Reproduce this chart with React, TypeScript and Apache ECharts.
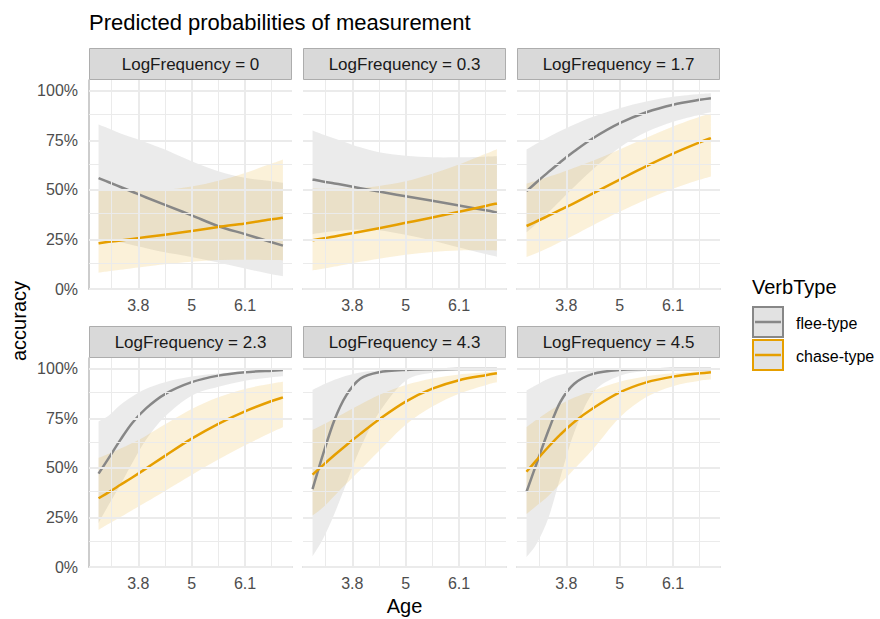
import { useEffect, useRef } from "react";
import * as echarts from "echarts";

// ---------- data ----------
const ages = [2.98, 3.2, 3.45, 3.7, 4.0, 4.4, 4.97, 5.54, 6.11, 6.68, 6.92];

const panelTitles = [
  "LogFrequency = 0",
  "LogFrequency = 0.3",
  "LogFrequency = 1.7",
  "LogFrequency = 2.3",
  "LogFrequency = 4.3",
  "LogFrequency = 4.5",
];

const xTickValues = [3.83, 4.97, 6.11];
const xTickLabels = ["3.8", "5", "6.1"];
const xMinorValues = [3.26, 4.4, 5.54, 6.68];
const yTickValues = [0, 0.25, 0.5, 0.75, 1];
const yTickLabels = ["0%", "25%", "50%", "75%", "100%"];
const yMinorValues = [0.125, 0.375, 0.625, 0.875];

const verbTypes = ["flee-type", "chase-type"];

// LogFrequency = 0
const fleeFitLF0 = [0.56, 0.539, 0.515, 0.491, 0.462, 0.425, 0.372, 0.317, 0.277, 0.236, 0.219];
const fleeLowLF0 = [0.249, 0.243, 0.236, 0.222, 0.206, 0.186, 0.162, 0.134, 0.103, 0.074, 0.064];
const fleeHighLF0 = [0.83, 0.81, 0.785, 0.765, 0.74, 0.704, 0.645, 0.595, 0.561, 0.544, 0.536];
const chaseFitLF0 = [0.231, 0.238, 0.245, 0.253, 0.262, 0.274, 0.293, 0.313, 0.331, 0.352, 0.36];
const chaseLowLF0 = [0.082, 0.089, 0.097, 0.105, 0.114, 0.125, 0.138, 0.146, 0.148, 0.146, 0.144];
const chaseHighLF0 = [0.503, 0.499, 0.496, 0.495, 0.495, 0.5, 0.517, 0.546, 0.586, 0.633, 0.654];

// LogFrequency = 0.3
const fleeFitLF03 = [0.553, 0.543, 0.533, 0.522, 0.509, 0.492, 0.468, 0.445, 0.421, 0.397, 0.386];
const fleeLowLF03 = [0.277, 0.285, 0.291, 0.297, 0.3, 0.297, 0.274, 0.245, 0.21, 0.177, 0.163];
const fleeHighLF03 = [0.8, 0.78, 0.76, 0.74, 0.715, 0.69, 0.672, 0.665, 0.665, 0.668, 0.67];
const chaseFitLF03 = [0.246, 0.255, 0.265, 0.276, 0.289, 0.307, 0.334, 0.361, 0.39, 0.419, 0.432];
const chaseLowLF03 = [0.094, 0.102, 0.113, 0.124, 0.137, 0.153, 0.173, 0.187, 0.194, 0.195, 0.194];
const chaseHighLF03 = [0.507, 0.506, 0.506, 0.507, 0.51, 0.52, 0.544, 0.582, 0.629, 0.683, 0.706];

// LogFrequency = 1.7
const fleeFitLF17 = [0.494, 0.54, 0.591, 0.64, 0.695, 0.761, 0.837, 0.892, 0.93, 0.955, 0.963];
const fleeLowLF17 = [0.286, 0.332, 0.388, 0.446, 0.516, 0.605, 0.714, 0.792, 0.844, 0.88, 0.892];
const fleeHighLF17 = [0.704, 0.734, 0.767, 0.797, 0.83, 0.869, 0.913, 0.947, 0.97, 0.984, 0.988];
const chaseFitLF17 = [0.318, 0.342, 0.37, 0.399, 0.434, 0.483, 0.552, 0.62, 0.683, 0.74, 0.762];
const chaseLowLF17 = [0.161, 0.182, 0.208, 0.237, 0.272, 0.322, 0.39, 0.452, 0.506, 0.551, 0.568];
const chaseHighLF17 = [0.532, 0.548, 0.567, 0.586, 0.612, 0.647, 0.704, 0.763, 0.82, 0.869, 0.886];

// LogFrequency = 2.3
const fleeFitLF23 = [0.471, 0.551, 0.643, 0.727, 0.802, 0.873, 0.933, 0.966, 0.983, 0.991, 0.994];
const fleeLowLF23 = [0.222, 0.316, 0.417, 0.525, 0.645, 0.76, 0.865, 0.91, 0.94, 0.958, 0.963];
const fleeHighLF23 = [0.735, 0.765, 0.819, 0.861, 0.9, 0.933, 0.961, 0.977, 0.988, 0.996, 0.998];
const chaseFitLF23 = [0.347, 0.378, 0.415, 0.452, 0.498, 0.561, 0.648, 0.723, 0.786, 0.838, 0.856];
const chaseLowLF23 = [0.187, 0.218, 0.252, 0.287, 0.328, 0.384, 0.465, 0.543, 0.614, 0.68, 0.705];
const chaseHighLF23 = [0.551, 0.572, 0.598, 0.626, 0.663, 0.72, 0.798, 0.857, 0.899, 0.926, 0.935];

// LogFrequency = 4.3
const fleeFitLF43 = [0.393, 0.566, 0.743, 0.866, 0.95, 0.983, 0.995, 0.998, 0.999, 0.999, 0.999];
const fleeLowLF43 = [0.054, 0.14, 0.27, 0.42, 0.6, 0.78, 0.94, 0.98, 0.993, 0.996, 0.997];
const fleeHighLF43 = [0.894, 0.92, 0.945, 0.965, 0.982, 0.992, 0.997, 0.999, 1.0, 1.0, 1.0];
const chaseFitLF43 = [0.466, 0.513, 0.565, 0.615, 0.672, 0.745, 0.835, 0.9, 0.943, 0.968, 0.978];
const chaseLowLF43 = [0.26, 0.3, 0.36, 0.42, 0.49, 0.585, 0.718, 0.81, 0.875, 0.918, 0.932];
const chaseHighLF43 = [0.692, 0.718, 0.75, 0.782, 0.82, 0.868, 0.919, 0.952, 0.972, 0.983, 0.987];

// LogFrequency = 4.5
const fleeFitLF45 = [0.38, 0.526, 0.69, 0.832, 0.925, 0.975, 0.995, 0.998, 0.999, 0.999, 0.999];
const fleeLowLF45 = [0.05, 0.12, 0.25, 0.45, 0.68, 0.88, 0.965, 0.99, 0.995, 0.997, 0.998];
const fleeHighLF45 = [0.891, 0.92, 0.95, 0.97, 0.985, 0.993, 0.998, 0.999, 1.0, 1.0, 1.0];
const chaseFitLF45 = [0.481, 0.541, 0.607, 0.668, 0.732, 0.801, 0.881, 0.932, 0.961, 0.978, 0.983];
const chaseLowLF45 = [0.268, 0.31, 0.36, 0.42, 0.495, 0.595, 0.755, 0.858, 0.913, 0.94, 0.946];
const chaseHighLF45 = [0.707, 0.745, 0.785, 0.82, 0.855, 0.89, 0.935, 0.963, 0.978, 0.988, 0.99];

const fleeFits = [fleeFitLF0, fleeFitLF03, fleeFitLF17, fleeFitLF23, fleeFitLF43, fleeFitLF45];
const fleeLows = [fleeLowLF0, fleeLowLF03, fleeLowLF17, fleeLowLF23, fleeLowLF43, fleeLowLF45];
const fleeHighs = [fleeHighLF0, fleeHighLF03, fleeHighLF17, fleeHighLF23, fleeHighLF43, fleeHighLF45];
const chaseFits = [chaseFitLF0, chaseFitLF03, chaseFitLF17, chaseFitLF23, chaseFitLF43, chaseFitLF45];
const chaseLows = [chaseLowLF0, chaseLowLF03, chaseLowLF17, chaseLowLF23, chaseLowLF43, chaseLowLF45];
const chaseHighs = [chaseHighLF0, chaseHighLF03, chaseHighLF17, chaseHighLF23, chaseHighLF43, chaseHighLF45];

// ---------- layout / style ----------
const FONT = '"Liberation Sans", Arial, Helvetica, sans-serif';
const PANEL_LEFT = [89, 303, 517];
const PANEL_TOP = [80, 358];
const PANEL_W = 203;
const PANEL_H = 209;
const STRIP_H = 32;
const X_MIN = 2.776;
const X_MAX = 7.114;
const Y_MAX = 1.055;

const FLEE_LINE = "#878787";
const CHASE_LINE = "#E69F00";
const FLEE_FILL = "rgba(150,150,150,0.19)";
const CHASE_FILL = "rgba(230,159,0,0.15)";
const GRID_COLOR = "#ebebeb";
const AXIS_COLOR = "#bdbdbd";
const TICK_TEXT = "#4d4d4d";
const LINE_W = 2.5;

function labelFor(values: number[], labels: string[], v: number) {
  const idx = values.findIndex((t) => Math.abs(t - v) < 1e-6);
  return idx >= 0 ? labels[idx] : "";
}

// Smooth cubic path through pixel points (Catmull-Rom, drawn as Bezier segments)
function curveThrough(pts: number[][]): string {
  let d = "";
  for (let i = 0; i < pts.length - 1; i++) {
    const p0 = pts[i - 1] || pts[i];
    const p1 = pts[i];
    const p2 = pts[i + 1];
    const p3 = pts[i + 2] || pts[i + 1];
    const c1x = p1[0] + (p2[0] - p0[0]) / 6;
    const c1y = p1[1] + (p2[1] - p0[1]) / 6;
    const c2x = p2[0] - (p3[0] - p1[0]) / 6;
    const c2y = p2[1] - (p3[1] - p1[1]) / 6;
    d += ` C${c1x.toFixed(2)},${c1y.toFixed(2)} ${c2x.toFixed(2)},${c2y.toFixed(2)} ${p2[0].toFixed(2)},${p2[1].toFixed(2)}`;
  }
  return d;
}

function ribbonSeries(i: number, name: string, lows: number[], highs: number[], fill: string) {
  return {
    type: "custom",
    name,
    coordinateSystem: "cartesian2d",
    xAxisIndex: i,
    yAxisIndex: i,
    data: ages.map((a, k) => [a, lows[k], highs[k]]),
    encode: { x: 0, y: [1, 2] },
    silent: true,
    clip: true,
    z: 2,
    renderItem: (params: any, api: any) => {
      if (params.dataIndex !== 0) return null;
      const upper = ages.map((a, k) => api.coord([a, highs[k]]));
      const lower = ages.map((a, k) => api.coord([a, lows[k]])).reverse();
      const d =
        `M${upper[0][0].toFixed(2)},${upper[0][1].toFixed(2)}` +
        curveThrough(upper) +
        ` L${lower[0][0].toFixed(2)},${lower[0][1].toFixed(2)}` +
        curveThrough(lower) +
        " Z";
      return { type: "path", shape: { pathData: d }, style: { fill, stroke: null } };
    },
  };
}

function fitSeries(i: number, name: string, fits: number[], color: string, z: number) {
  return {
    type: "custom",
    name,
    coordinateSystem: "cartesian2d",
    xAxisIndex: i,
    yAxisIndex: i,
    data: ages.map((a, k) => [a, fits[k]]),
    encode: { x: 0, y: 1 },
    silent: true,
    clip: true,
    z,
    renderItem: (params: any, api: any) => {
      if (params.dataIndex !== 0) return null;
      const pts = ages.map((a, k) => api.coord([a, fits[k]]));
      const d = `M${pts[0][0].toFixed(2)},${pts[0][1].toFixed(2)}` + curveThrough(pts);
      return {
        type: "path",
        shape: { pathData: d },
        style: { fill: null, stroke: color, lineWidth: LINE_W, lineJoin: "round" },
      };
    },
  };
}

export default function App() {
  const ref = useRef<HTMLDivElement>(null);

  useEffect(() => {
    if (!ref.current) return;
    const chart = echarts.init(ref.current, null, { renderer: "svg" });

    const grids: any[] = [];
    const xAxes: any[] = [];
    const yAxes: any[] = [];
    const series: any[] = [];
    const graphics: any[] = [];

    const gridLines = [
      ...xTickValues.map((v) => ({ xAxis: v, lineStyle: { color: GRID_COLOR, width: 2, type: "solid" } })),
      ...xMinorValues.map((v) => ({ xAxis: v, lineStyle: { color: GRID_COLOR, width: 1, type: "solid" } })),
      ...yTickValues.map((v) => ({ yAxis: v, lineStyle: { color: GRID_COLOR, width: 2, type: "solid" } })),
      ...yMinorValues.map((v) => ({ yAxis: v, lineStyle: { color: GRID_COLOR, width: 1, type: "solid" } })),
    ];

    for (let i = 0; i < 6; i++) {
      const col = i % 3;
      const row = Math.floor(i / 3);
      const left = PANEL_LEFT[col];
      const top = PANEL_TOP[row];

      grids.push({ left, top, width: PANEL_W, height: PANEL_H, containLabel: false });

      xAxes.push({
        gridIndex: i,
        type: "value",
        min: X_MIN,
        max: X_MAX,
        splitLine: { show: false },
        minorSplitLine: { show: false },
        axisTick: { show: false },
        axisLine: { show: true, onZero: false, lineStyle: { color: AXIS_COLOR, width: 1.5 } },
        axisLabel: {
          show: true,
          customValues: xTickValues,
          formatter: (v: number) => labelFor(xTickValues, xTickLabels, v),
          color: TICK_TEXT,
          fontSize: 16,
          fontFamily: FONT,
          margin: 8,
        },
      });

      yAxes.push({
        gridIndex: i,
        type: "value",
        min: 0,
        max: Y_MAX,
        interval: 0.25,
        splitLine: { show: false },
        axisTick: { show: false },
        axisLine: { show: col === 0, lineStyle: { color: AXIS_COLOR, width: 1.5 } },
        axisLabel: {
          show: col === 0,
          customValues: yTickValues,
          formatter: (v: number) => labelFor(yTickValues, yTickLabels, v),
          color: TICK_TEXT,
          fontSize: 16,
          fontFamily: FONT,
          margin: 11,
        },
      });

      // grid lines
      series.push({
        type: "line",
        xAxisIndex: i,
        yAxisIndex: i,
        data: [[X_MIN, 0.5]],
        symbol: "none",
        lineStyle: { opacity: 0 },
        silent: true,
        z: 1,
        markLine: {
          silent: true,
          symbol: ["none", "none"],
          label: { show: false },
          animation: false,
          data: gridLines,
        },
      });

      series.push(ribbonSeries(i, "flee-band", fleeLows[i], fleeHighs[i], FLEE_FILL));
      series.push(ribbonSeries(i, "chase-band", chaseLows[i], chaseHighs[i], CHASE_FILL));
      series.push(fitSeries(i, verbTypes[0], fleeFits[i], FLEE_LINE, 3));
      series.push(fitSeries(i, verbTypes[1], chaseFits[i], CHASE_LINE, 4));

      // strip
      graphics.push({
        type: "rect",
        shape: { x: left + 0.5, y: top - STRIP_H + 0.5, width: PANEL_W - 1, height: STRIP_H - 1 },
        style: { fill: "#d9d9d9", stroke: "#adadad", lineWidth: 1 },
        silent: true,
      });
      graphics.push({
        type: "text",
        x: left + PANEL_W / 2,
        y: top - STRIP_H / 2,
        style: {
          text: panelTitles[i],
          fill: "#1a1a1a",
          fontSize: 17,
          fontFamily: FONT,
          textAlign: "center",
          textVerticalAlign: "middle",
        },
        silent: true,
      });
    }

    // title
    graphics.push({
      type: "text",
      x: 89,
      y: 22,
      style: {
        text: "Predicted probabilities of measurement",
        fill: "#000000",
        fontSize: 22,
        fontFamily: FONT,
        textAlign: "left",
        textVerticalAlign: "middle",
      },
    });
    // axis titles
    graphics.push({
      type: "text",
      x: 404.5,
      y: 606,
      style: {
        text: "Age",
        fill: "#000000",
        fontSize: 20,
        fontFamily: FONT,
        textAlign: "center",
        textVerticalAlign: "middle",
      },
    });
    graphics.push({
      type: "text",
      x: 19,
      y: 321,
      rotation: Math.PI / 2,
      style: {
        text: "accuracy",
        fill: "#000000",
        fontSize: 20,
        fontFamily: FONT,
        textAlign: "center",
        textVerticalAlign: "middle",
      },
    });

    // legend
    graphics.push({
      type: "text",
      x: 752,
      y: 287,
      style: {
        text: "VerbType",
        fill: "#000000",
        fontSize: 20,
        fontFamily: FONT,
        textAlign: "left",
        textVerticalAlign: "middle",
      },
    });
    const legendColors = [FLEE_LINE, CHASE_LINE];
    const keyTops = [307, 340];
    verbTypes.forEach((vt, k) => {
      const y0 = keyTops[k];
      graphics.push({
        type: "rect",
        shape: { x: 753, y: y0, width: 30, height: 30 },
        style: { fill: "#e2e2e2", stroke: legendColors[k], lineWidth: 2 },
      });
      graphics.push({
        type: "line",
        shape: { x1: 755, y1: y0 + 15, x2: 781, y2: y0 + 15 },
        style: { stroke: legendColors[k], lineWidth: LINE_W },
      });
      graphics.push({
        type: "text",
        x: 796,
        y: y0 + 16,
        style: {
          text: vt,
          fill: "#000000",
          fontSize: 16,
          fontFamily: FONT,
          textAlign: "left",
          textVerticalAlign: "middle",
        },
      });
    });

    chart.setOption({
      animation: false,
      backgroundColor: "#ffffff",
      textStyle: { fontFamily: FONT },
      grid: grids,
      xAxis: xAxes,
      yAxis: yAxes,
      series,
      graphic: graphics,
    });

    return () => {
      chart.dispose();
    };
  }, []);

  return (
    <div
      ref={ref}
      style={{ position: "fixed", left: 0, top: 0, width: 880, height: 619 }}
    />
  );
}
